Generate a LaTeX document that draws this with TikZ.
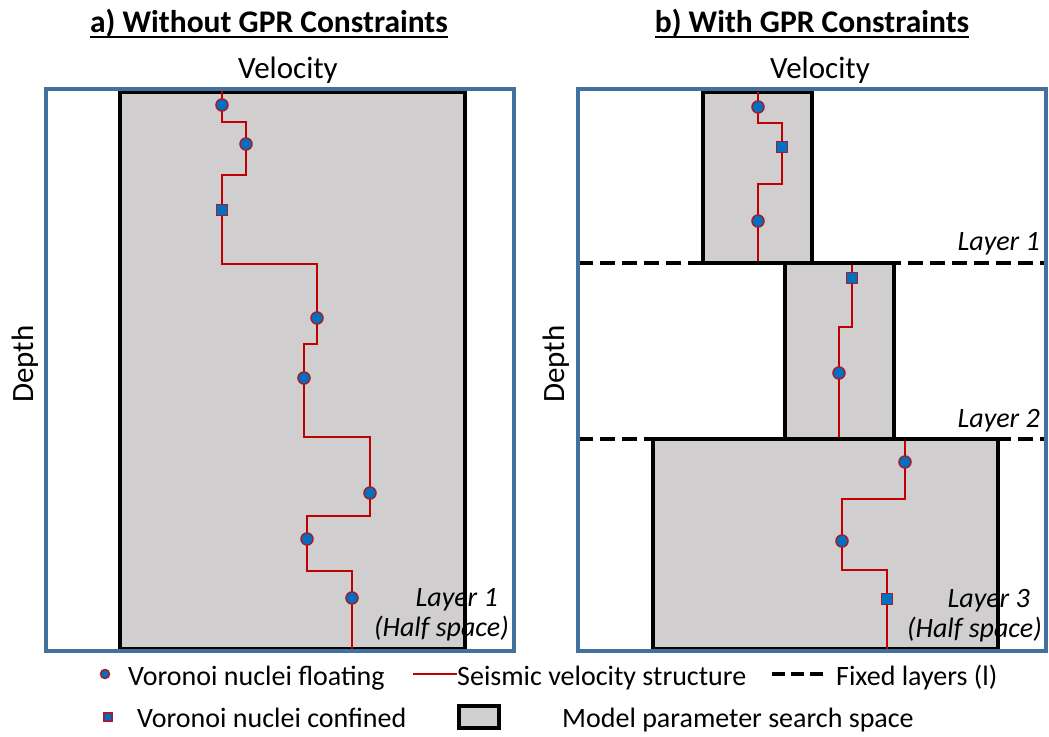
\documentclass[tikz,border=0pt]{standalone}
\usepackage{fontspec}
\setmainfont{Carlito}
\definecolor{framebl}{RGB}{65,113,156}
\definecolor{boxgray}{RGB}{208,206,206}
\definecolor{seisred}{RGB}{192,0,0}
\definecolor{nucblue}{RGB}{0,112,192}
\definecolor{nucedge}{RGB}{160,30,50}

\begin{document}
\begin{tikzpicture}[x=1pt,y=-1pt,
  every node/.style={font=\fontsize{28}{33}\selectfont, inner sep=0pt},
  axislbl/.style={font=\fontsize{31}{36}\selectfont, anchor=base},
  paneltitle/.style={font=\fontsize{31.5}{37}\selectfont\bfseries, anchor=base},
  frame/.style={draw=framebl, line width=4pt},
  searchbox/.style={draw=black, fill=boxgray, line width=4pt},
  seis/.style={draw=seisred, line width=1.5pt},
  fixedlayer/.style={draw=black, line width=4pt, dash pattern=on 15pt off 7pt},
  floatnuc/.style={circle, fill=nucblue, draw=nucedge, line width=1.5pt, minimum size=12pt},
  confnuc/.style={rectangle, fill=nucblue, draw=nucedge, line width=1.5pt, minimum size=11pt},
  layerlbl/.style={font=\fontsize{28}{33}\selectfont\itshape, anchor=base east}]
  \useasboundingbox (0,0) rectangle (1049,736);

  % titles
  \node[paneltitle] (titleA) at (269,32) {a) Without GPR Constraints};
  \node[paneltitle] (titleB) at (812,32) {b) With GPR Constraints};
  \draw[line width=2pt] ([yshift=-4.5pt]titleA.base west) -- ([yshift=-4.5pt]titleA.base east);
  \draw[line width=2pt] ([yshift=-4.5pt]titleB.base west) -- ([yshift=-4.5pt]titleB.base east);
  \node[axislbl] (velA) at (288,78) {Velocity};
  \node[axislbl] (velB) at (820,78) {Velocity};
  \node[axislbl, rotate=90] (depthA) at (33,364) {Depth};
  \node[axislbl, rotate=90] (depthB) at (564,364) {Depth};

  % a) one search box for the whole half space
  \draw[searchbox] (120,92) rectangle (465,649);
  \draw[seis] (222,89) -- (222,122) -- (246,122) -- (246,175) -- (222,175) -- (222,264)
    -- (317,264) -- (317,344) -- (304,344) -- (304,437) -- (370,437) -- (370,516)
    -- (307,516) -- (307,571) -- (352,571) -- (352,649);
  \node[floatnuc] (a1) at (222,105) {};
  \node[floatnuc] (a2) at (246,144) {};
  \node[confnuc]  (a3) at (222,210) {};
  \node[floatnuc] (a4) at (317,318) {};
  \node[floatnuc] (a5) at (304,378) {};
  \node[floatnuc] (a6) at (370,493) {};
  \node[floatnuc] (a7) at (307,539) {};
  \node[floatnuc] (a8) at (352,598) {};
  \draw[frame] (46,89) rectangle (514,651);
  \node[layerlbl] (layA1) at (498,606) {Layer 1};
  \node[layerlbl] (layA2) at (509,636) {(Half space)};

  % b) three layers fixed by the GPR interfaces
  \draw[fixedlayer] (578,263) -- (1046,263);
  \draw[fixedlayer] (578,439) -- (1046,439);
  \draw[searchbox] (703,92) rectangle (812,263);
  \draw[searchbox] (785,263) rectangle (894,439);
  \draw[searchbox] (653,439) rectangle (998,649);
  \draw[seis] (758,92) -- (758,123) -- (782,123) -- (782,184) -- (758,184) -- (758,261);
  \draw[seis] (852,265) -- (852,327) -- (839,327) -- (839,437);
  \draw[seis] (905,441) -- (905,499) -- (842,499) -- (842,570) -- (887,570) -- (887,649);
  \node[floatnuc] (b1) at (758,107) {};
  \node[confnuc]  (b2) at (782,147) {};
  \node[floatnuc] (b3) at (758,221) {};
  \node[confnuc]  (b4) at (852,278) {};
  \node[floatnuc] (b5) at (839,373) {};
  \node[floatnuc] (b6) at (905,462) {};
  \node[floatnuc] (b7) at (842,541) {};
  \node[confnuc]  (b8) at (887,599) {};
  \draw[frame] (578,89) rectangle (1046,651);
  \node[layerlbl] (layB1) at (1040,250) {Layer 1};
  \node[layerlbl] (layB2) at (1040,427) {Layer 2};
  \node[layerlbl] (layB3) at (1030,607) {Layer 3};
  \node[layerlbl] (layB4) at (1042,637) {(Half space)};

  % legend
  \node[floatnuc, minimum size=9pt] (legFloat) at (105,674) {};
  \node[anchor=base west] (legFloatTxt) at (128,685) {Voronoi nuclei floating};
  \draw[seis] (413,674) coordinate (legSeisA) -- (457,674) coordinate (legSeisB);
  \node[anchor=base west] (legSeisTxt) at (457,685) {Seismic velocity structure};
  \draw[fixedlayer, dash pattern=on 13pt off 6pt] (772,674) coordinate (legFixA) -- (823,674) coordinate (legFixB);
  \node[anchor=base west] (legFixTxt) at (836,685) {Fixed layers (l)};
  \node[confnuc, minimum size=8pt] (legConf) at (108,717) {};
  \node[anchor=base west] (legConfTxt) at (137,727) {Voronoi nuclei confined};
  \draw[searchbox] (459,706) rectangle (499,728);
  \node[anchor=base west] (legBoxTxt) at (562,727) {Model parameter search space};
\end{tikzpicture}
\end{document}
